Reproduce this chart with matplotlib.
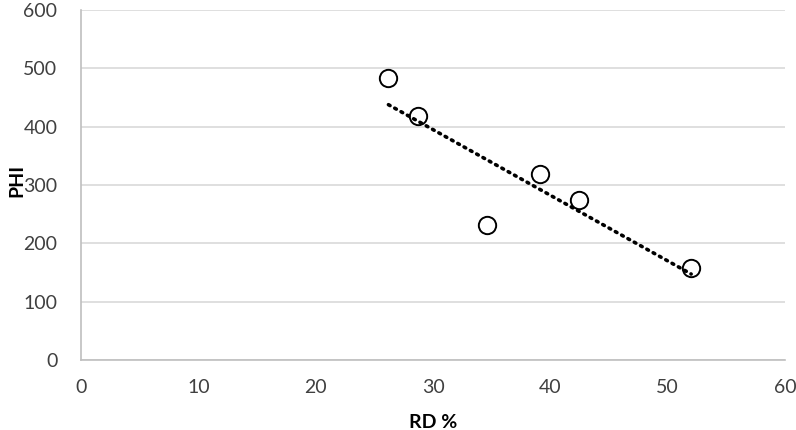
import numpy as np
import matplotlib.pyplot as plt

# values
rd = [26.2, 28.75, 34.6, 39.16, 42.45, 52.0]
phi = [484, 418, 232, 319, 274, 157]
x_ticks = [0, 10, 20, 30, 40, 50, 60]
y_ticks = [0, 100, 200, 300, 400, 500, 600]

plt.rcParams["font.family"] = ["Lato", "DejaVu Sans"]

fig = plt.figure(figsize=(7.96, 4.30), dpi=100)
ax = fig.add_axes([0.1018, 0.1628, 0.8844, 0.8139])

# linear trendline
k, b = np.polyfit(rd, phi, 1)
xs = np.array([min(rd), max(rd)])
ax.plot(xs, k * xs + b, color="black", linestyle=(0, (0.5, 1.5)),
        linewidth=2.6, dash_capstyle="round", zorder=2)

ax.plot(rd, phi, linestyle="none", marker="o", markersize=12.5,
        markerfacecolor="none", markeredgecolor="black",
        markeredgewidth=1.4, zorder=3)

ax.set_xlim(0, 60)
ax.set_ylim(0, 600)
ax.set_xticks(x_ticks)
ax.set_yticks(y_ticks)
ax.yaxis.grid(True, color="#d9d9d9", linewidth=1.2)
ax.set_axisbelow(True)
ax.tick_params(length=0, labelsize=14, labelcolor="#404040")
ax.tick_params(axis="y", pad=17)
ax.tick_params(axis="x", pad=14)

for side in ("top", "right"):
    ax.spines[side].set_visible(False)
for side in ("left", "bottom"):
    ax.spines[side].set_color("#bfbfbf")
    ax.spines[side].set_linewidth(1.2)

ax.set_xlabel("RD %", fontsize=14, fontweight="bold", va="center")
ax.set_ylabel("PHI", fontsize=14, fontweight="bold", va="center")
ax.xaxis.set_label_coords(0.5, -0.18)
ax.yaxis.set_label_coords(-0.091, 0.514)

fig.savefig("out.png", dpi=100)
